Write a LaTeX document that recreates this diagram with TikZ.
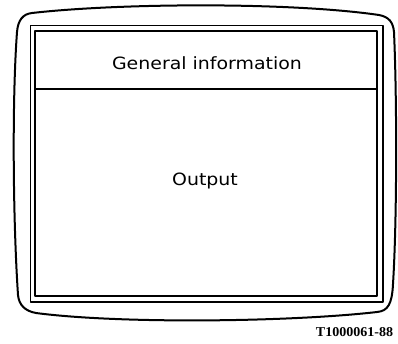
\documentclass[tikz,border=0pt]{standalone}
\usepackage{fontspec}
\newfontfamily\screenfont[FakeStretch=1.12]{DejaVu Sans}
\newfontfamily\labelfont[FakeStretch=1.04]{Liberation Serif}
\begin{document}
\begin{tikzpicture}[x=1pt,y=-1pt,line join=round,line cap=round]
\tikzset{
  bezel/.style={line width=2pt},
  frameline/.style={line width=1.9pt},
  screentext/.style={font=\screenfont\fontsize{16.9}{18}\selectfont,anchor=base,inner sep=0pt},
  figlabel/.style={font=\labelfont\bfseries\fontsize{13.5}{15}\selectfont,anchor=base,inner sep=0pt}
}
\useasboundingbox (0,0) rectangle (398,343);
% outer bezel of the display
\draw[bezel] (32,13) .. controls (120,3) and (290,2) .. (379,15)
  .. controls (389,17) and (393,22) .. (394,32)
  .. controls (397,100) and (397,220) .. (393,284)
  .. controls (392,304) and (388,311) .. (377,312)
  .. controls (290,322) and (120,324) .. (36,313)
  .. controls (25,311) and (19,305) .. (18,295)
  .. controls (13,220) and (12,100) .. (17,32)
  .. controls (18,20) and (23,14) .. (32,13) -- cycle;
% double screen frame
\draw[frameline] (30.5,25.5) rectangle (383,302);
\draw[frameline] (35,31) rectangle (377,296);
\coordinate (divL) at (35,89);
\coordinate (divR) at (377,89);
\draw[frameline] (divL) -- (divR);
\node[screentext] (title) at (207,69) {General information};
\node[screentext] (output) at (205,185) {Output};
\node[figlabel] (code) at (354.5,336) {T1000061-88};
\end{tikzpicture}
\end{document}
